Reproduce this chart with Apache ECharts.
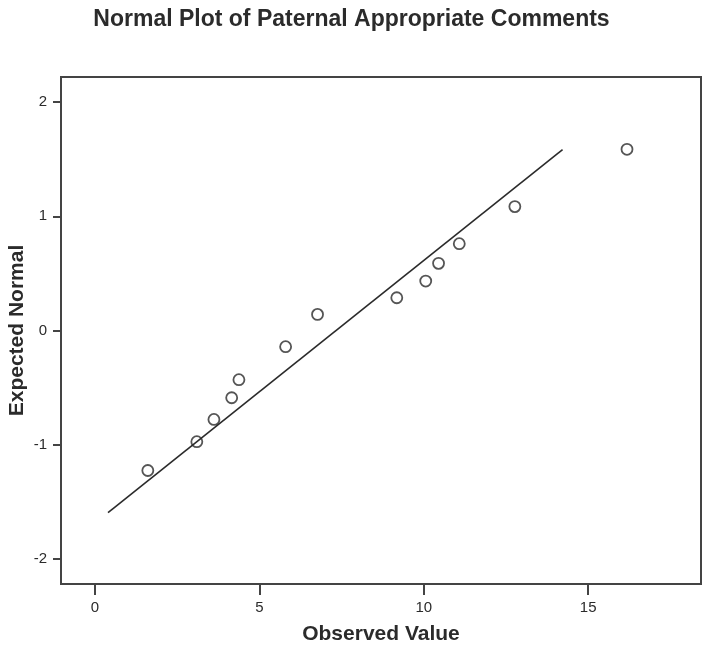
<!DOCTYPE html>
<html>
<head>
<meta charset="utf-8">
<script src="https://cdn.jsdelivr.net/npm/echarts@6/dist/echarts.min.js"></script>
<style>
  html, body { margin: 0; padding: 0; background: #fff; }
  #chart { width: 703px; height: 651px; }
</style>
</head>
<body>
<div id="chart"></div>
<script>
  const observed = [1.61, 3.10, 3.62, 4.16, 4.38, 5.80, 6.77, 9.18, 10.06, 10.45, 11.08, 12.77, 16.18];
  const expected = [-1.226, -0.974, -0.779, -0.589, -0.431, -0.142, 0.141, 0.287, 0.433, 0.588, 0.760, 1.085, 1.587];
  // reference line end points
  const fitX = [0.40, 14.22];
  const fitY = [-1.596, 1.584];
  const xTicks = [0, 5, 10, 15];
  const yTicks = [-2, -1, 0, 1, 2];

  const font = 'Liberation Sans, Arial, sans-serif';
  const ink = '#2b2b2b';

  let myChart = echarts.init(document.getElementById('chart'));
  myChart.setOption({
    backgroundColor: '#fff',
    animation: false,
    title: {
      text: 'Normal Plot of Paternal Appropriate Comments',
      left: 'center',
      top: 3,
      textStyle: { color: ink, fontSize: 23, fontWeight: 'bold', fontFamily: font }
    },
    grid: {
      left: 61, top: 77, right: 2, bottom: 67,
      outerBoundsMode: 'none',
      containLabel: false,
      show: true,
      borderColor: '#444',
      borderWidth: 2
    },
    xAxis: {
      type: 'value',
      min: -1.03,
      max: 18.43,
      name: 'Observed Value',
      nameLocation: 'middle',
      nameGap: 40,
      nameMoveOverlap: false,
      nameTextStyle: { color: ink, fontSize: 21, fontWeight: 'bold', fontFamily: font },
      axisLine: { show: true, onZero: false, lineStyle: { color: '#444', width: 2 } },
      splitLine: { show: false },
      axisTick: { show: true, length: 11, customValues: xTicks, lineStyle: { color: '#444', width: 2 } },
      axisLabel: { customValues: xTicks, color: ink, fontSize: 15, fontFamily: font, margin: 16 }
    },
    yAxis: {
      type: 'value',
      min: -2.22,
      max: 2.22,
      name: 'Expected Normal',
      nameLocation: 'middle',
      nameGap: 33,
      nameMoveOverlap: false,
      nameTextStyle: { color: ink, fontSize: 21, fontWeight: 'bold', fontFamily: font },
      axisLine: { show: true, onZero: false, lineStyle: { color: '#444', width: 2 } },
      splitLine: { show: false },
      axisTick: { show: true, length: 8, customValues: yTicks, lineStyle: { color: '#444', width: 2 } },
      axisLabel: { customValues: yTicks, color: ink, fontSize: 15, fontFamily: font, margin: 14 }
    },
    series: [
      {
        type: 'line',
        data: fitX.map((x, i) => [x, fitY[i]]),
        symbol: 'none',
        lineStyle: { color: ink, width: 1.6 },
        z: 2
      },
      {
        type: 'scatter',
        data: observed.map((x, i) => [x, expected[i]]),
        symbol: 'circle',
        symbolSize: 11,
        itemStyle: { color: 'rgba(255,255,255,0)', borderColor: ink, borderWidth: 1.8 },
        z: 3
      }
    ]
  });
</script>
</body>
</html>
